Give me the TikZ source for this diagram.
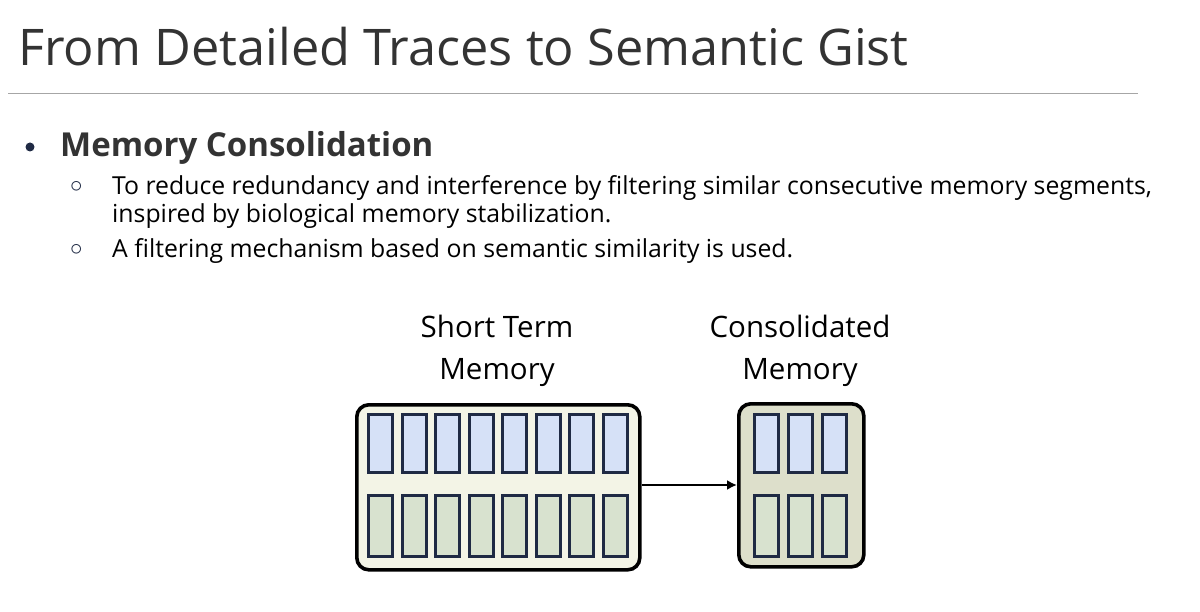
\documentclass[tikz,border=0pt]{standalone}
\usepackage{fontspec}
\setmainfont{Open Sans}
\usetikzlibrary{positioning,arrows.meta}
\definecolor{titlegray}{HTML}{333333}
\definecolor{navy}{HTML}{1F2A44}
\definecolor{cellblue}{HTML}{D6E1F7}
\definecolor{cellgreen}{HTML}{D8E2CF}
\definecolor{boxlight}{HTML}{F3F4E6}
\definecolor{boxdark}{HTML}{DDDFCB}
\tikzset{
  membox/.style={draw=black, line width=3.6pt, rounded corners=12pt, anchor=north west, inner sep=0pt},
  cell/.style={draw=navy, line width=3.4pt, anchor=north west, inner sep=0pt, minimum width=24pt},
  toprow/.style={cell, fill=cellblue, minimum height=58pt},
  botrow/.style={cell, fill=cellgreen, minimum height=61pt},
  label/.style={font=\fontsize{29.5}{42}\selectfont, align=center, text=black},
  body/.style={font=\fontsize{24.8}{30}\selectfont, anchor=base west, text=black, inner sep=0pt},
}
\begin{document}
\begin{tikzpicture}[x=1pt,y=-1pt]
  \useasboundingbox (0,0) rectangle (1200,612);
  % Title and rule
  \node[anchor=base west, inner sep=0pt, text=titlegray, font=\fontsize{50.5}{56}\selectfont] (title) at (18,66) {From Detailed Traces to Semantic Gist};
  \coordinate (ruleL) at (8,93);
  \coordinate (ruleR) at (1138,93);
  \draw[gray!70, line width=0.8pt] (ruleL) -- (ruleR);

  % Bullets
  \node[circle, fill=navy, inner sep=0pt, minimum size=9pt] (dot) at (30,147) {};
  \node[anchor=base west, inner sep=0pt, font=\bfseries\fontsize{33}{38}\selectfont, text=titlegray] (head) at (60,157) {Memory Consolidation};
  \node[body, text=navy] (s1) at (70,193) {$\circ$};
  \node[body] (t1) at (112,195) {To reduce redundancy and interference by filtering similar consecutive memory segments,};
  \node[body] (t1b) at (112,223) {inspired by biological memory stabilization.};
  \node[body, text=navy] (s2) at (70,256) {$\circ$};
  \node[body] (t2) at (112,258) {A filtering mechanism based on semantic similarity is used.};

  % Short term memory
  \node[label] (stmlab) at (497,351) {Short Term\\Memory};
  \node[membox, fill=boxlight, minimum width=283pt, minimum height=165pt] (stm) at (355,403) {};
  \foreach \i in {0,...,7} {
    \node[toprow] (st\i) at (367+33.5*\i,413) {};
    \node[botrow] (sb\i) at (367+33.5*\i,494) {};
  }

  % Consolidated memory
  \node[label] (cmlab) at (800,351) {Consolidated\\Memory};
  \node[membox, fill=boxdark, minimum width=125pt, minimum height=163pt] (cm) at (737,402) {};
  \foreach \i in {0,1,2} {
    \node[toprow] (ct\i) at (753+34*\i,413) {};
    \node[botrow] (cb\i) at (753+34*\i,494) {};
  }

  \draw[-{Latex[length=10pt,width=10pt]}, line width=2.6pt] (stm.east |- 0,485) -- (cm.west |- 0,485);
\end{tikzpicture}
\end{document}
